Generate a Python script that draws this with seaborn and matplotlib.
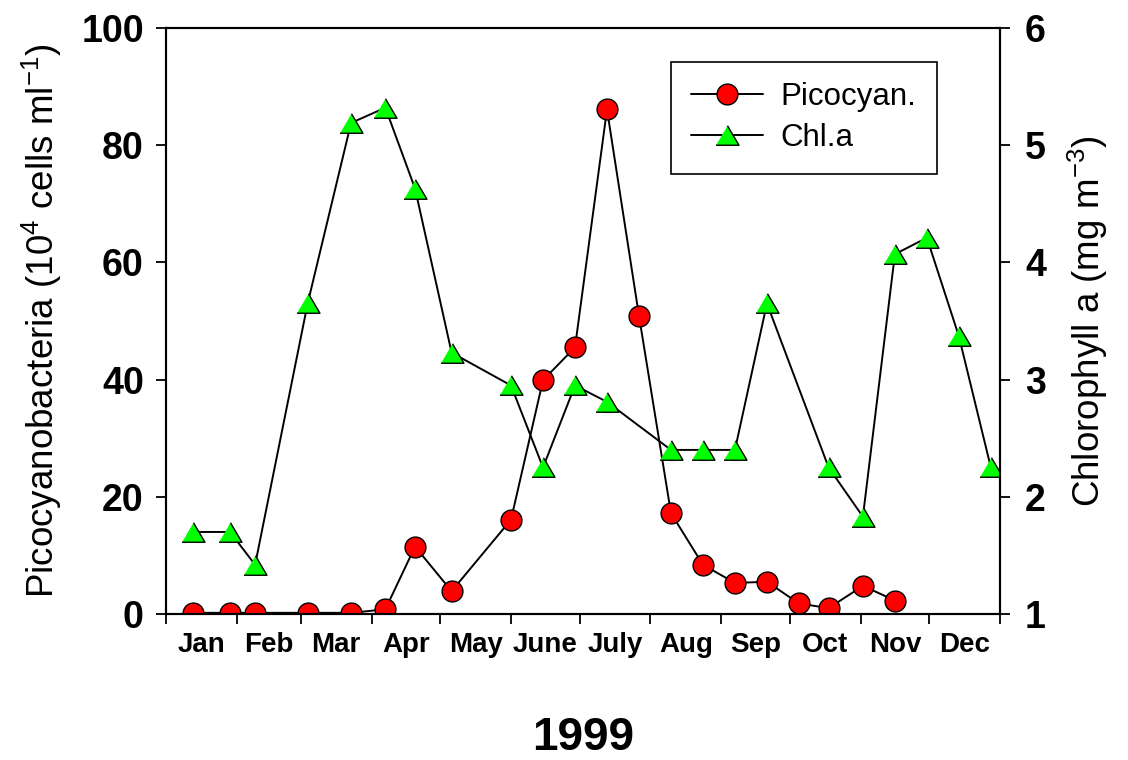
import matplotlib
matplotlib.use("Agg")
import matplotlib.pyplot as plt
import seaborn as sns
import pandas as pd
from matplotlib.lines import Line2D

# ---- data ----
months = ["Jan", "Feb", "Mar", "Apr", "May", "June", "July", "Aug", "Sep", "Oct", "Nov", "Dec"]
month_starts = [0, 31, 59, 90, 120, 151, 181, 212, 243, 273, 304, 334, 365]

pico_days = [12, 28, 39, 62, 81, 96, 109, 125, 151, 165, 179, 193, 207, 221, 235, 249, 263, 277, 290, 305, 319]
pico_vals = [0.2, 0.2, 0.2, 0.2, 0.2, 0.8, 11.5, 3.9, 16.1, 39.9, 45.5, 86.1, 50.9, 17.2, 8.4, 5.3, 5.5, 1.8, 1.0, 4.8, 2.3]

chl_days = [12, 28, 39, 62, 81, 96, 109, 125, 151, 165, 179, 193, 221, 235, 249, 263, 290, 305, 319, 333, 347, 361]
chl_vals = [1.70, 1.70, 1.42, 3.65, 5.19, 5.32, 4.63, 3.23, 2.95, 2.25, 2.95, 2.81, 2.40, 2.40, 2.40, 3.65,
            2.25, 1.83, 4.07, 4.21, 3.37, 2.25]

year_label = "1999"

# ---- style ----
sns.set_style("ticks")
plt.rcParams['font.family'] = ['Liberation Sans', 'DejaVu Sans']
plt.rcParams['mathtext.fontset'] = 'custom'
plt.rcParams['mathtext.rm'] = 'Liberation Sans'
plt.rcParams['mathtext.it'] = 'Liberation Sans:italic'
plt.rcParams['mathtext.bf'] = 'Liberation Sans:bold'
plt.rcParams['text.color'] = 'black'
plt.rcParams['axes.labelcolor'] = 'black'
plt.rcParams['xtick.color'] = 'black'
plt.rcParams['ytick.color'] = 'black'
plt.rcParams['axes.edgecolor'] = 'black'

W, H = 1128, 760
fig = plt.figure(figsize=(W / 100, H / 100), dpi=100)
L, R, T, B = 166, 1000, 28, 614
ax = fig.add_axes([L / W, 1 - B / H, (R - L) / W, (B - T) / H])
ax2 = ax.twinx()

tri = [(-1, -0.85), (1, -0.85), (0, 0.85)]

pico_df = pd.DataFrame({"day": pico_days, "val": pico_vals})
chl_df = pd.DataFrame({"day": chl_days, "val": chl_vals})

line_kw = dict(color="black", linewidth=1.4, markeredgecolor="black", markeredgewidth=1.0)
sns.lineplot(data=pico_df, x="day", y="val", ax=ax, marker="o", markersize=15,
             markerfacecolor="#ff0000", estimator=None, legend=False, **line_kw)
sns.lineplot(data=chl_df, x="day", y="val", ax=ax2, marker=tri, markersize=16.5,
             markerfacecolor="#00ff00", estimator=None, legend=False, **line_kw)

# axes limits & ticks
ax.set_xlim(month_starts[0], month_starts[-1])
ax.set_ylim(0, 100)
ax2.set_ylim(1, 6)
ax.set_yticks(range(0, 101, 20))
ax2.set_yticks(range(1, 7))

ax.set_xticks(month_starts)
ax.set_xticklabels([])
mids = [(month_starts[i] + month_starts[i + 1]) / 2 for i in range(12)]
ax.set_xticks(mids, minor=True)
ax.set_xticklabels(months, minor=True, fontsize=20, fontweight="bold", color="black")
ax.tick_params(axis="x", which="minor", length=0, pad=13)
ax.tick_params(axis="x", which="major", length=7, width=1.3, direction="out")

ax.tick_params(axis="y", labelsize=27, length=7, width=1.3, pad=9, direction="out", colors="black")
ax2.tick_params(axis="y", labelsize=27, length=7, width=1.3, pad=11, direction="out", colors="black")
for lab in ax.get_yticklabels() + ax2.get_yticklabels():
    lab.set_fontweight("bold")

for a in (ax, ax2):
    for s in a.spines.values():
        s.set_visible(True)
        s.set_color("black")
        s.set_linewidth(1.5)
    a.set_xlabel("")
    a.set_ylabel("")

ax.set_ylabel(r"Picocyanobacteria (10$^{\mathregular{4}}$ cells ml$^{\mathregular{-1}}$)",
              fontsize=26.5, labelpad=12, color="black")
ax2.set_ylabel(r"Chlorophyll a (mg m$^{\mathregular{-3}}$)", fontsize=26.5, labelpad=14, color="black")
fig.text((L + R) / 2 / W, 1 - 738 / H, year_label, fontsize=33, fontweight="bold",
         ha="center", va="center", color="black")

handles = [
    Line2D([], [], color="black", linewidth=1.4, marker="o", markersize=15,
           markerfacecolor="#ff0000", markeredgecolor="black", markeredgewidth=1.0),
    Line2D([], [], color="black", linewidth=1.4, marker=tri, markersize=16.5,
           markerfacecolor="#00ff00", markeredgecolor="black", markeredgewidth=1.0),
]
leg = ax2.legend(handles, ["Picocyan.", "Chl.a"], loc="upper left",
                 bbox_to_anchor=((671 - L) / (R - L), (B - 62) / (B - T)),
                 borderaxespad=0, fontsize=22.5, handlelength=2.3, labelspacing=0.35,
                 frameon=True, fancybox=False, framealpha=1, edgecolor="black",
                 borderpad=0.65, handletextpad=0.55)
leg.get_frame().set_linewidth(1.2)
for t in leg.get_texts():
    t.set_color("black")

fig.savefig("out.png", dpi=100)
